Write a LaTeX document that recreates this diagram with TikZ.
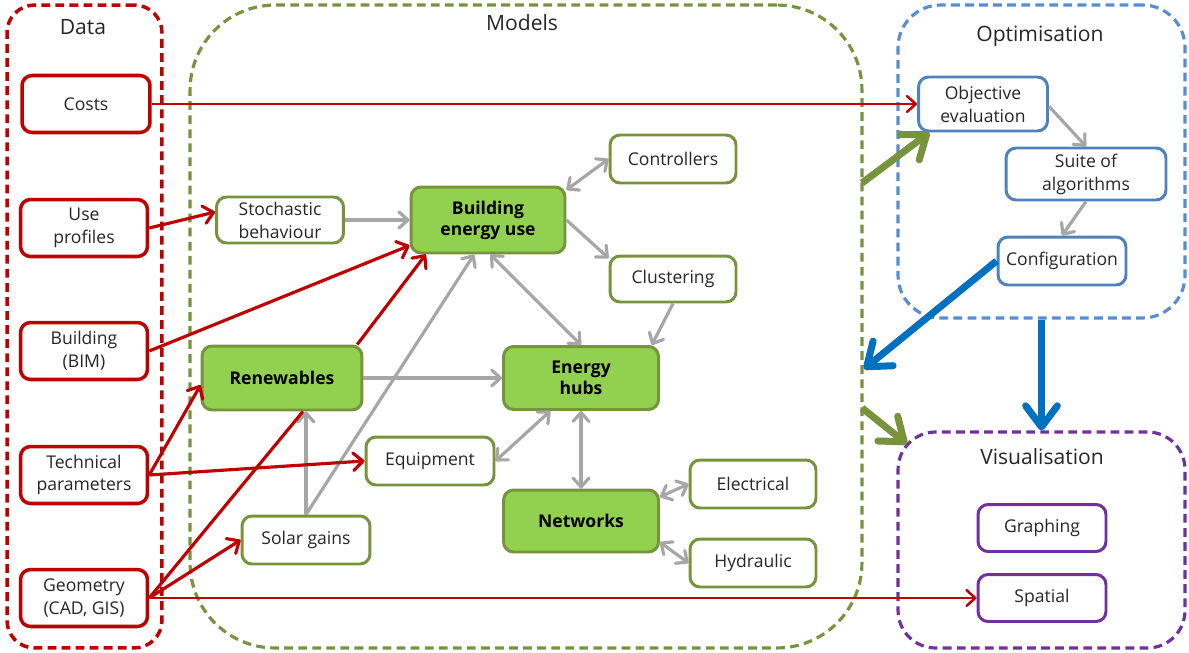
\documentclass[tikz,border=0pt]{standalone}
\usepackage{fontspec}
\setmainfont{Open Sans}
\usetikzlibrary{arrows.meta}
\definecolor{redc}{HTML}{C00000}
\definecolor{grn}{HTML}{77933C}
\definecolor{grnfill}{HTML}{92D050}
\definecolor{nblue}{HTML}{4F81BD}
\definecolor{dblue}{HTML}{558ED5}
\definecolor{tblue}{HTML}{0070C0}
\definecolor{purp}{HTML}{7030A0}
\definecolor{gry}{HTML}{A6A6A6}
\definecolor{txt}{HTML}{262626}
\begin{document}
\begin{tikzpicture}[x=0.02cm,y=-0.02cm,
  box/.style={draw, rounded corners=0.2cm, align=center, text=txt, font=\fontsize{10}{13}\selectfont, inner sep=1pt, fill=white},
  dnode/.style={box, draw=redc, line width=2pt, minimum width=2.54cm, minimum height=1.14cm},
  mnode/.style={box, draw=grn, line width=1.7pt},
  mbold/.style={mnode, fill=grnfill, text=black, font=\bfseries\fontsize{10}{12}\selectfont},
  onode/.style={box, draw=nblue, line width=1.7pt},
  vnode/.style={box, draw=purp, line width=1.7pt, minimum width=2.56cm, minimum height=0.94cm},
  cont/.style={draw, line width=1.8pt, dash pattern=on 5pt off 3pt},
  ctitle/.style={font=\fontsize{12}{14}\selectfont, text=txt},
  redarr/.style={draw=redc, line width=1.8pt, -{Straight Barb[length=5.5pt,width=10pt,round]}},
  redthin/.style={draw=redc, line width=1.4pt, -{Straight Barb[length=5pt,width=9pt,round]}},
  redline/.style={draw=redc, line width=1.8pt},
  gar/.style={draw=gry, line width=1.8pt, -{Straight Barb[length=5pt,width=9pt,round]}},
  gbi/.style={draw=gry, line width=1.8pt, {Straight Barb[length=5pt,width=9pt,round]}-{Straight Barb[length=5pt,width=9pt,round]}},
  thickg/.style={draw=grn, line width=4pt, -{Straight Barb[length=12pt,width=18pt,round]}},
  thickb/.style={draw=tblue, line width=4pt, -{Straight Barb[length=12pt,width=18pt,round]}}
]
\useasboundingbox (0,0) rectangle (1189,652);

% containers
\node[cont, draw=redc, line width=2pt, minimum width=3.1cm, minimum height=12.86cm, rounded corners=0.55cm] (data) at (84.5,326.5) {};
\node[cont, draw=grn, minimum width=13.44cm, minimum height=12.86cm, rounded corners=1.7cm] (models) at (526,326.5) {};
\node[cont, draw=dblue, minimum width=5.74cm, minimum height=6.26cm, rounded corners=0.85cm] (opt) at (1041.5,161.5) {};
\node[cont, draw=purp, minimum width=5.74cm, minimum height=4.32cm, rounded corners=0.75cm] (vis) at (1041.5,540) {};

\node[ctitle] (tdata) at (83,27) {Data};
\node[ctitle] (tmodels) at (522,23) {Models};
\node[ctitle] (topt) at (1040,36) {Optimisation};
\node[ctitle] (tvis) at (1042,457) {Visualisation};

% data nodes
\node[dnode, minimum width=2.56cm] (costs) at (86,104) {Costs};
\node[dnode] (use) at (84,228) {Use\\profiles};
\node[dnode] (bim) at (84,351) {Building\\(BIM)};
\node[dnode] (tech) at (84,475) {Technical\\parameters};
\node[dnode] (geo) at (84,598) {Geometry\\(CAD, GIS)};

% model nodes
\node[mnode, minimum width=2.54cm, minimum height=0.92cm] (stoch) at (280,220) {Stochastic\\behaviour};
\node[mbold, minimum width=3.08cm, minimum height=1.32cm] (beu) at (488,220) {Building\\energy use};
\node[mnode, minimum width=2.52cm, minimum height=0.96cm] (ctrl) at (673,159) {Controllers};
\node[mnode, minimum width=2.52cm, minimum height=0.92cm] (clus) at (673,279) {Clustering};
\node[mbold, minimum width=3.2cm, minimum height=1.28cm] (ren) at (282,378) {Renewables};
\node[mbold, minimum width=3.1cm, minimum height=1.26cm] (hubs) at (581,378) {Energy\\hubs};
\node[mnode, minimum width=2.56cm, minimum height=0.96cm] (equip) at (430,461) {Equipment};
\node[mnode, minimum width=2.56cm, minimum height=0.96cm] (solar) at (306,540) {Solar gains};
\node[mbold, minimum width=3.1cm, minimum height=1.24cm] (net) at (581,521) {Networks};
\node[mnode, minimum width=2.52cm, minimum height=0.96cm] (elec) at (753,484) {Electrical};
\node[mnode, minimum width=2.52cm, minimum height=0.96cm] (hyd) at (753,563) {Hydraulic};

% optimisation nodes
\node[onode, minimum width=2.58cm, minimum height=1.08cm] (obj) at (983,104) {Objective\\evaluation};
\node[onode, minimum width=3.2cm, minimum height=1.04cm] (suite) at (1086,174) {Suite of\\algorithms};
\node[onode, minimum width=2.56cm, minimum height=0.96cm] (conf) at (1062,261) {Configuration};

% visualisation nodes
\node[vnode] (graph) at (1042,528) {Graphing};
\node[vnode] (spat) at (1042,598) {Spatial};

% coordinates for thick arrows
\coordinate (g1) at (862,183);
\coordinate (g2) at (862,408);
\coordinate (g2e) at (907,444);
\coordinate (b1e) at (864,369);

% grey connectors
\draw[gar] (stoch.east) -- (beu.west);
\draw[gbi] (beu.21) -- (ctrl.west);
\draw[gar] (beu.east) -- (clus.162);
\draw[gar] (clus.south) -- (hubs.25);
\draw[gbi] (beu.-86) -- (hubs.north);
\draw[gar] (ren.east) -- (hubs.west);
\draw[gar] (solar.north) -- (solar.north |- ren.south);
\draw[gar] (solar.north) -- (beu.248);
\draw[gbi] (equip.east) -- (hubs.227);
\draw[gbi] (hubs.south) -- (net.north);
\draw[gbi] (net.17) -- (elec.west);
\draw[gbi] (net.-15) -- (hyd.west);
\draw[gar] (obj.-2) -- (suite.north);
\draw[gar] (suite.south) -- (conf.north);

% red connectors
\draw[redthin] (costs.east) -- (obj.west);
\draw[redarr] (use.east) -- (stoch.173);
\draw[redarr] (bim.east) -- (beu.198);
\draw[redarr] (tech.east) -- (ren.185);
\draw[redarr] (tech.east) -- (equip.west);
\draw[redarr] (ren.24) -- (beu.209);
\draw[redline] (geo.east) -- (ren.302);
\draw[redarr] (geo.east) -- (solar.west);
\draw[redthin] (geo.east) -- (spat.west);

% thick connectors
\draw[thickg] (g1) -- (obj.208);
\draw[thickg] (g2) -- (g2e);
\draw[thickb] (conf.west) -- (b1e);
\draw[thickb] (opt.south) -- (vis.north);
\end{tikzpicture}
\end{document}
